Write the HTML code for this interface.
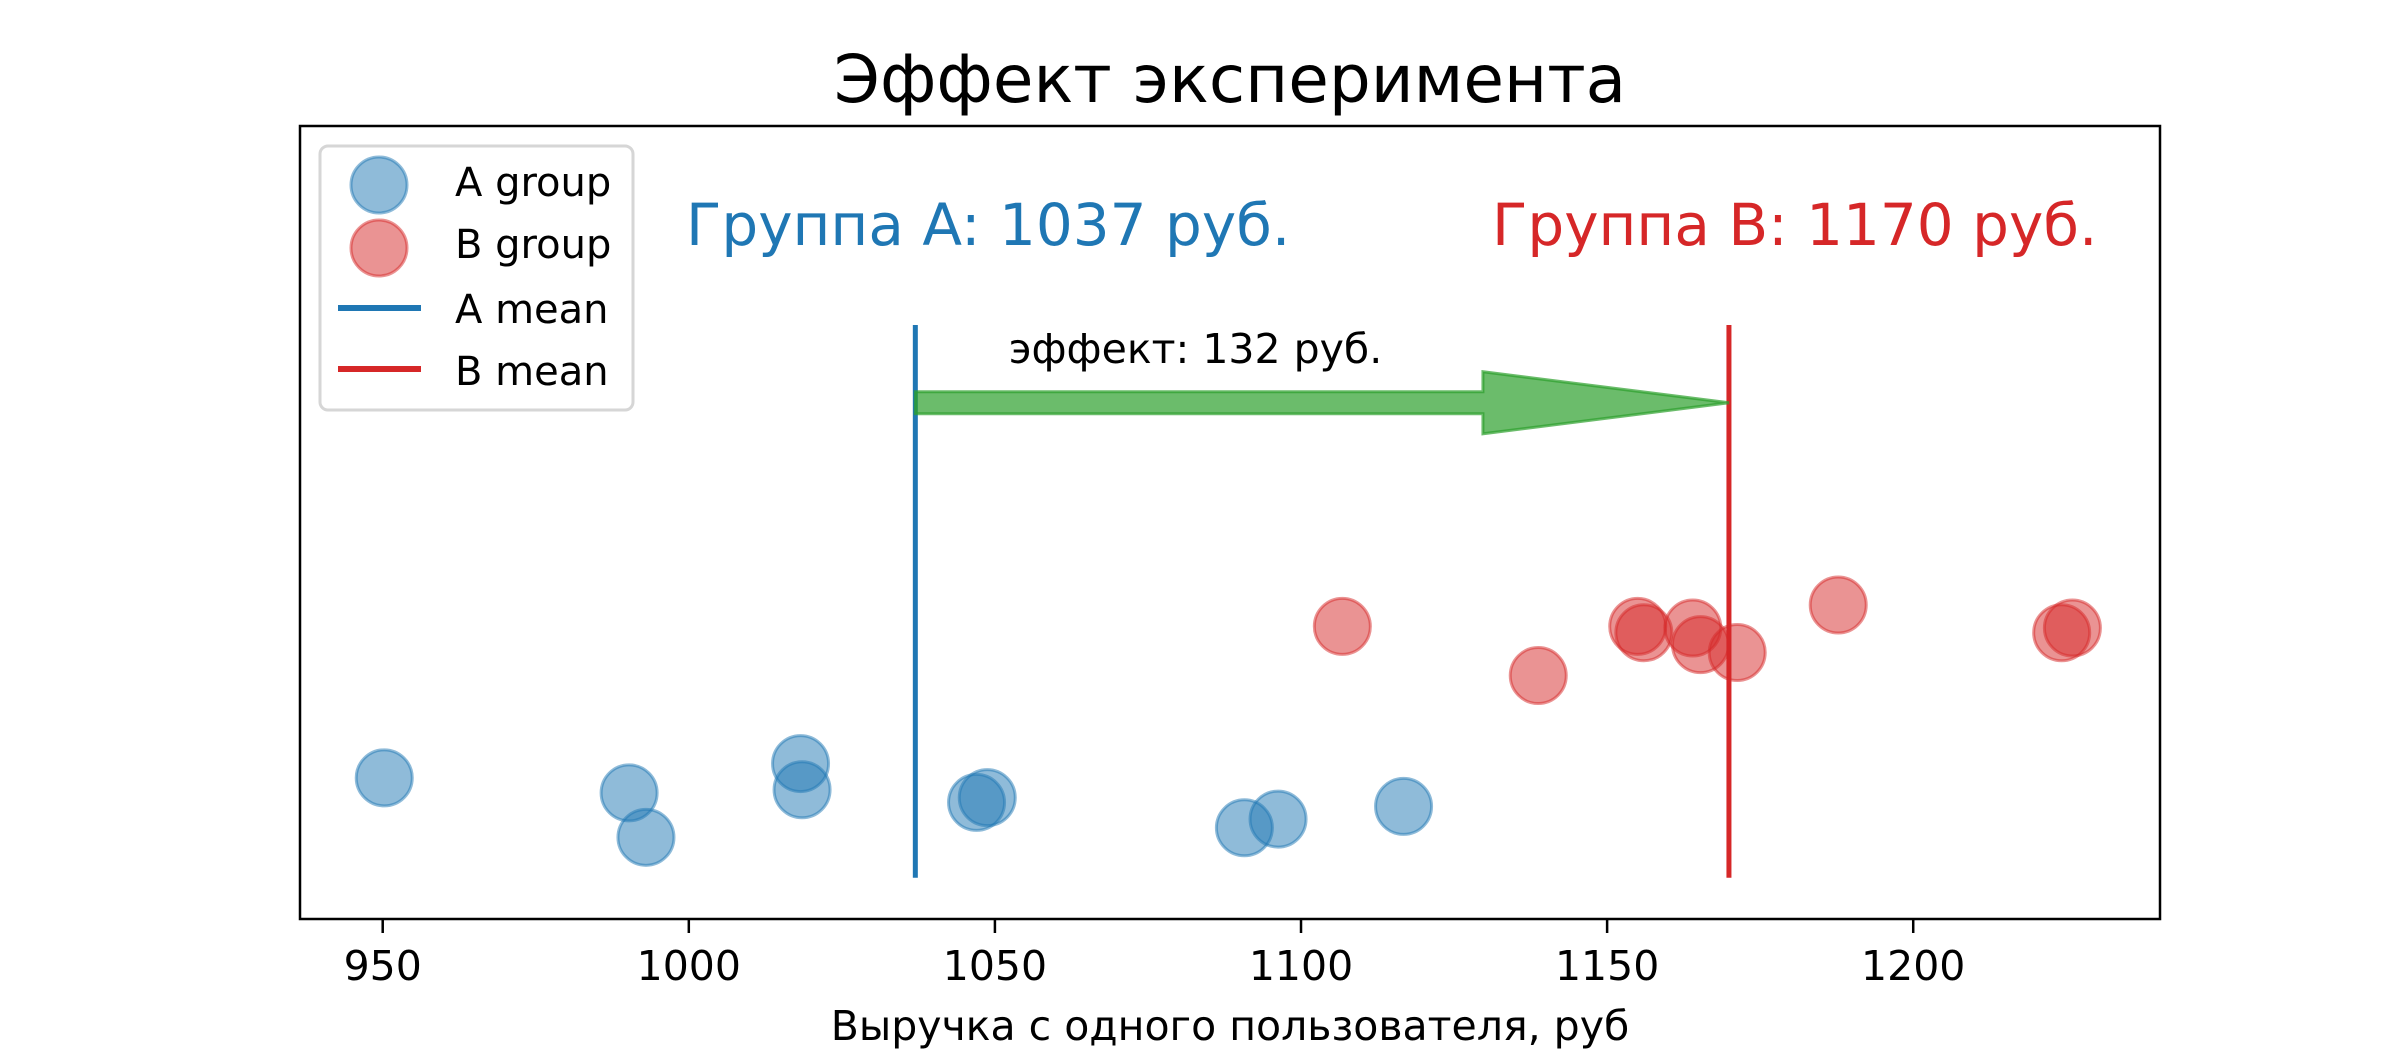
<!DOCTYPE html>
<html><head><meta charset="utf-8"><style>
html,body{margin:0;padding:0;background:#fff;}
svg text{font-family:"DejaVu Sans","Liberation Sans",sans-serif;}
</style></head><body>
<svg id="chart" width="2400" height="1050" viewBox="0 0 2400 1050" xmlns="http://www.w3.org/2000/svg">
<rect x="0" y="0" width="2400" height="1050" fill="#fff"/>
<text x="1230" y="102" font-size="66" text-anchor="middle">Эффект эксперимента</text>
<g id="plot"></g>
<rect x="300" y="126" width="1860" height="793" fill="none" stroke="#000" stroke-width="2.5"/>
<text x="1230" y="1040" font-size="41" text-anchor="middle">Выручка с одного пользователя, руб</text>
<text x="686" y="245" font-size="58" fill="#1f77b4">Группа A: 1037 руб.</text>
<text x="1492" y="245" font-size="58" fill="#d62728">Группа B: 1170 руб.</text>
<text x="1009" y="363" font-size="41">эффект: 132 руб.</text>
<g>
<rect x="320" y="146" width="313" height="264" rx="8" fill="#fff" fill-opacity="0.8" stroke="#d6d6d6" stroke-width="3"/>
<circle cx="379" cy="185" r="28" fill="#1f77b4" fill-opacity="0.5" stroke="#1f77b4" stroke-opacity="0.5" stroke-width="3"/>
<text x="455" y="196" font-size="40">A group</text>
<circle cx="379" cy="248" r="28" fill="#d62728" fill-opacity="0.5" stroke="#d62728" stroke-opacity="0.5" stroke-width="3"/>
<text x="455" y="258" font-size="40">B group</text>
<line x1="338" y1="308" x2="421" y2="308" stroke="#1f77b4" stroke-width="6"/>
<text x="455" y="323" font-size="40">A mean</text>
<line x1="338" y1="369" x2="421" y2="369" stroke="#d62728" stroke-width="6"/>
<text x="455" y="385" font-size="40">B mean</text>
</g>
</svg>
<script>
const xTicks = [950, 1000, 1050, 1100, 1150, 1200];
const aX = [950.25, 990.25, 993, 1018.25, 1018.5, 1047, 1048.75, 1090.75, 1096.25, 1116.75];
const aY = [0.178, 0.159, 0.103, 0.196, 0.163, 0.147, 0.153, 0.115, 0.126, 0.142];
const bX = [1106.75, 1138.75, 1155, 1156, 1164, 1165.25, 1171.25, 1187.75, 1224.25, 1226];
const bY = [0.369, 0.307, 0.369, 0.361, 0.367, 0.346, 0.336, 0.396, 0.361, 0.367];
const means = [1037, 1169.9];
const arrowY = [0.651];

const NS = "http://www.w3.org/2000/svg";
const L = 300, R = 2160, T = 126, B = 919;
const xMin = 936.49, xMax = 1240.31;
function sx(v){ return L + (v - xMin) / (xMax - xMin) * (R - L); }
function sy(v){ return B - v * (B - T); }
const plot = document.getElementById('plot');
function mk(tag, attrs){ const e = document.createElementNS(NS, tag); for (const k in attrs) e.setAttribute(k, attrs[k]); plot.appendChild(e); return e; }

xTicks.forEach(t => {
  const ln = mk('line', {x1: sx(t), x2: sx(t), y1: B, y2: B + 14, stroke: '#000', 'stroke-width': 2.5});
  
  
  const tx = mk('text', {x: sx(t), y: 980, 'font-size': 41, 'text-anchor': 'middle'});
  tx.textContent = t;
  
  
});

aX.forEach((v, i) => {
  const c = mk('circle', {cx: sx(v), cy: sy(aY[i]), r: 28, fill: '#1f77b4', 'fill-opacity': 0.5, stroke: '#1f77b4', 'stroke-opacity': 0.5, 'stroke-width': 3});
  
  
});
bX.forEach((v, i) => {
  const c = mk('circle', {cx: sx(v), cy: sy(bY[i]), r: 28, fill: '#d62728', 'fill-opacity': 0.5, stroke: '#d62728', 'stroke-opacity': 0.5, 'stroke-width': 3});
  
  
});

const ma = mk('line', {x1: sx(means[0]), x2: sx(means[0]), y1: sy(0.749), y2: sy(0.052), stroke: '#1f77b4', 'stroke-width': 5});


const mb = mk('line', {x1: sx(means[1]), x2: sx(means[1]), y1: sy(0.749), y2: sy(0.052), stroke: '#d62728', 'stroke-width': 5});



const x0 = sx(means[0]), x1 = sx(means[1]), ay = sy(arrowY[0]);
const hl = 246, bw = 11, hw = 31;
const pts = [[x0, ay - bw], [x1 - hl, ay - bw], [x1 - hl, ay - hw], [x1, ay], [x1 - hl, ay + hw], [x1 - hl, ay + bw], [x0, ay + bw]];
const ar = mk('polygon', {points: pts.map(p => p.join(',')).join(' '), fill: '#2ca02c', 'fill-opacity': 0.7, stroke: '#2ca02c', 'stroke-opacity': 0.7, 'stroke-width': 3});


</script>
</body></html>
